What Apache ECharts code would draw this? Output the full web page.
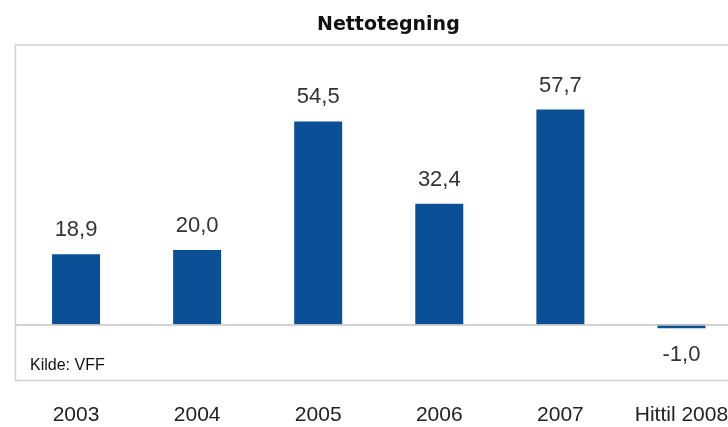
<!DOCTYPE html>
<html>
<head>
<meta charset="utf-8">
<title>Nettotegning</title>
<script src="https://cdn.jsdelivr.net/npm/echarts@6/dist/echarts.min.js"></script>
<style>
  html, body { margin: 0; padding: 0; background: #ffffff; overflow: hidden; }
  /* the plot runs past the right edge of the 728px view */
  #chart { width: 742px; height: 427px; }
</style>
</head>
<body>
<div id="chart"></div>
<script>
// Nettotegning per år (mrd. kr)
const categories = ['2003', '2004', '2005', '2006', '2007', 'Hittil 2008'];
const values = [18.9, 20.0, 54.5, 32.4, 57.7, -1.0];
const sourceNote = 'Kilde: VFF';

const fmt = v => v.toFixed(1).replace('.', ',');

const chart = echarts.init(document.getElementById('chart'), null, { renderer: 'canvas' });

chart.setOption({
  backgroundColor: '#ffffff',
  animation: false,
  title: {
    text: 'Nettotegning',
    left: 312,
    top: 11,
    textStyle: {
      fontFamily: 'DejaVu Sans',
      fontSize: 19,
      fontWeight: 'bold',
      color: '#111111'
    }
  },
  grid: {
    left: 15.5,
    right: 0,
    top: 45,
    height: 335.5,
    show: true,
    borderColor: '#cfcfcf',
    borderWidth: 1.5,
    backgroundColor: 'transparent'
  },
  xAxis: {
    type: 'category',
    data: categories,
    axisLine: { show: false, onZero: false },
    axisTick: { show: false },
    axisLabel: {
      interval: 0,
      margin: 24,
      fontFamily: 'Liberation Sans',
      fontSize: 21,
      color: '#222222'
    }
  },
  yAxis: {
    type: 'value',
    min: -15,
    max: 75,
    show: false,
    splitLine: { show: false }
  },
  series: [{
    type: 'bar',
    barWidth: 48,
    itemStyle: { color: '#0b4f96' },
    data: values.map(v => ({
      value: v,
      label: v < 0 ? { position: 'bottom', distance: 16 } : undefined
    })),
    label: {
      show: true,
      position: 'top',
      distance: 13,
      fontFamily: 'Liberation Sans',
      fontSize: 22,
      color: '#333333',
      formatter: p => fmt(p.value)
    },
    markLine: {
      silent: true,
      symbol: 'none',
      label: { show: false },
      lineStyle: { color: '#c4c4c4', width: 1.5, type: 'solid' },
      data: [{ yAxis: 0 }]
    }
  }],
  graphic: [{
    type: 'text',
    left: 30,
    top: 358,
    style: {
      text: sourceNote,
      fontFamily: 'Liberation Sans',
      fontSize: 16,
      fill: '#111111'
    }
  }]
});
</script>
</body>
</html>
